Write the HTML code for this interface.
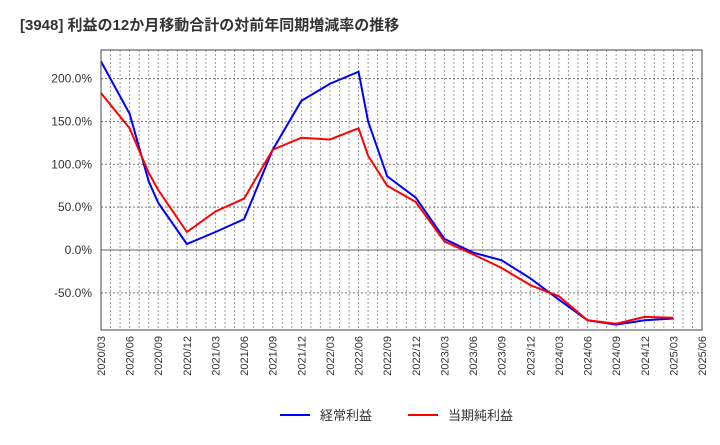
<!DOCTYPE html>
<html><head><meta charset="utf-8"><style>
body{margin:0;background:#fff;font-family:"Liberation Sans","Noto Sans CJK JP",sans-serif;}
</style></head><body>
<svg id="c" width="720" height="440" xmlns="http://www.w3.org/2000/svg" font-family="Liberation Sans, Noto Sans CJK JP, sans-serif">
<text x="20" y="30" font-size="15" font-weight="bold" fill="#333">[3948]  利益の12か月移動合計の対前年同期増減率の推移</text>
<g id="grid"></g><g id="series"></g><g id="axes"></g>
<g>
<line x1="280" y1="415" x2="310" y2="415" stroke="#0000ff" stroke-width="2"/>
<text x="320" y="420" font-size="13" fill="#333">経常利益</text>
<line x1="408" y1="415" x2="438" y2="415" stroke="#ff0000" stroke-width="2"/>
<text x="448" y="420" font-size="13" fill="#333">当期純利益</text>
</g>
</svg>
<script>
const months = [0,3,5,6,9,12,15,18,21,24,27,28,30,33,36,39,42,45,48,51,54,57,60];
const blueVals = [220,159,80,55,7,21,36,117,174,194,208,150,86,61,13,-3,-12,-33,-58,-82,-87,-82,-80];
const redVals = [183,142,90,70,21,45,60,117,131,129,142,110,75,56,10,-5,-21,-41,-54,-82,-86,-78,-79];
const yTicks = [-50,0,50,100,150,200];
const xLabels = ["2020/03","2020/06","2020/09","2020/12","2021/03","2021/06","2021/09","2021/12","2022/03","2022/06","2022/09","2022/12","2023/03","2023/06","2023/09","2023/12","2024/03","2024/06","2024/09","2024/12","2025/03","2025/06"];
const L=101,R=702,T=50,B=330,NM=63;
const xs=m=>L+m*(R-L)/NM, ys=v=>250-v*0.857;
const NS="http://www.w3.org/2000/svg";
function mk(t,a,p){const e=document.createElementNS(NS,t);for(const k in a)e.setAttribute(k,a[k]);p.appendChild(e);return e;}
const g=document.getElementById('grid'),ax=document.getElementById('axes'),s=document.getElementById('series');
for(let m=1;m<NM;m++){const l=mk('line',{x1:xs(m),x2:xs(m),y1:T,y2:B,stroke:'#999','stroke-dasharray':'2,2','stroke-width':1},g);

}
yTicks.forEach(v=>{const l=mk('line',{x1:L,x2:R,y1:ys(v),y2:ys(v),stroke:v==0?'#666':'#777','stroke-dasharray':v==0?'':'2,2','stroke-width':1},g);


const t=mk('text',{x:92,y:ys(v)+4,'text-anchor':'end','font-size':12,fill:'#333'},ax);t.textContent=v.toFixed(1)+'%';

});
xLabels.forEach((lb,i)=>{const x=xs(i*3);const t=mk('text',{x:0,y:0,transform:`translate(${x+4},336) rotate(-90)`,'text-anchor':'end','font-size':11,fill:'#333'},ax);t.textContent=lb;

});
const fr=mk('rect',{x:L,y:T,width:R-L,height:B-T,fill:'none',stroke:'#444','stroke-width':1},ax);


function line(vals,col,name){const p=mk('polyline',{points:vals.map((v,i)=>xs(months[i])+','+ys(v)).join(' '),fill:'none',stroke:col,'stroke-width':2},s);

}
line(blueVals,'#0000ff','keijo-line');
line(redVals,'#ff0000','touki-line');
</script>
</body></html>
